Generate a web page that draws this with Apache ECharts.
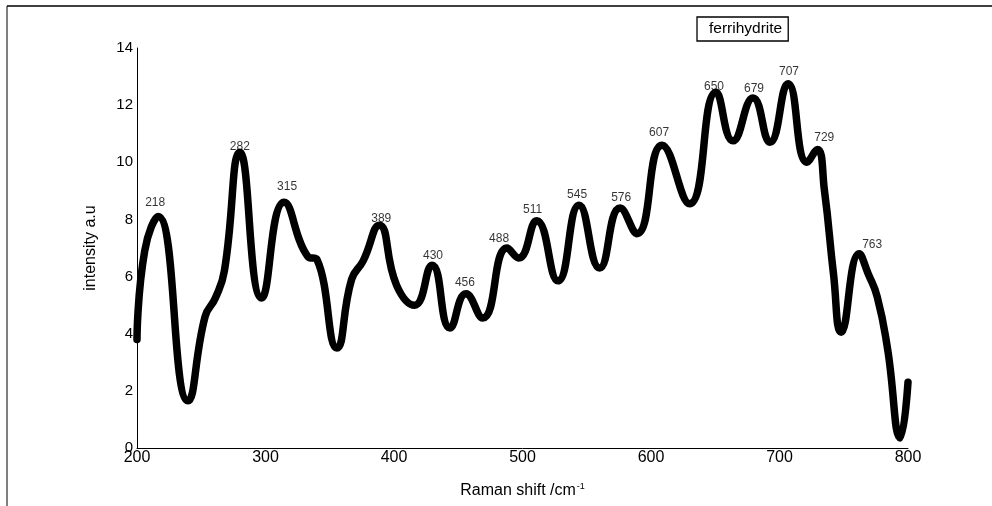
<!DOCTYPE html>
<html>
<head>
<meta charset="utf-8">
<script src="https://cdn.jsdelivr.net/npm/echarts@6/dist/echarts.min.js"></script>
<style>
html,body{margin:0;padding:0;background:#fff;}
#chart{width:992px;height:506px;}
</style>
</head>
<body>
<div id="chart"></div>
<script>
// Raman shift (cm^-1) and intensity (a.u.)
var ramanShift = [200, 206, 216.5, 239.7, 253, 261, 268, 280, 297, 314.5, 333, 340, 355.6, 367, 376, 388.5, 402, 416, 429.6, 443.6, 456, 469, 488, 497, 511, 527.6, 544, 560, 576, 589, 608.6, 630, 650.6, 663.8, 679.4, 692.6, 706.6, 721.4, 729.4, 735, 742, 748, 762, 769, 776, 784, 794, 800];
var intensity = [3.8, 6.9, 8.1, 1.65, 4.6, 5.25, 6.2, 10.35, 5.25, 8.6, 6.7, 6.6, 3.5, 5.9, 6.55, 7.8, 5.7, 5.0, 6.4, 4.2, 5.4, 4.55, 7.0, 6.65, 7.95, 5.85, 8.5, 6.3, 8.4, 7.5, 10.6, 8.55, 12.45, 10.75, 12.25, 10.7, 12.75, 10.0, 10.45, 9.0, 6.1, 4.05, 6.8, 6.1, 5.3, 3.5, 0.35, 2.3];

// Peak annotations
var peakLabels = ['218', '282', '315', '389', '430', '456', '488', '511', '545', '576', '607', '650', '679', '707', '729', '763'];
var peakShift = [216.5, 280, 314.5, 388.5, 429.6, 456, 488, 511, 544, 576, 608.6, 650.6, 679.4, 706.6, 729.4, 762];
var peakIntensity = [8.1, 10.35, 8.6, 7.8, 6.4, 5.4, 7.0, 7.95, 8.5, 8.4, 10.6, 12.45, 12.25, 12.75, 10.45, 6.8];
// label offsets in pixels (styling only)
var peakLabelOffset = [[-3, -14], [0, -6], [3, -16], [2, -6], [1, -9], [-1, -11], [-8, -9], [-4, -11], [-2, -10], [1, -10], [-3, -12], [-2, -6], [1, -9], [1, -12], [7, -12], [13, -9]];

var xTicks = [200, 300, 400, 500, 600, 700, 800];
var yTicks = [0, 2, 4, 6, 8, 10, 12, 14];

var seriesName = 'ferrihydrite';
var xTitle = 'Raman shift /cm';
var xTitleSup = '-1';
var yTitle = 'intensity a.u';

var FONT = '"Liberation Sans", Arial, sans-serif';

var chart = echarts.init(document.getElementById('chart'), null, {renderer: 'canvas'});

var lineData = ramanShift.map(function (x, i) { return [x, intensity[i]]; });
var peakData = peakShift.map(function (x, i) {
  return {
    value: [x, peakIntensity[i]],
    label: {formatter: peakLabels[i], offset: peakLabelOffset[i]}
  };
});

chart.setOption({
  animation: false,
  backgroundColor: '#fff',
  grid: {left: 137, right: 84, top: 48, bottom: 58},
  legend: {
    data: [{name: seriesName, icon: 'none'}],
    left: 697, top: 17,
    itemWidth: 0, itemHeight: 12, itemGap: 0,
    padding: [4, 6, 4, 7],
    borderColor: '#000', borderWidth: 1.3,
    selectedMode: false,
    textStyle: {fontFamily: FONT, fontSize: 15.5, color: '#000'}
  },
  xAxis: {
    type: 'value', min: 200, max: 800, interval: 100,
    name: xTitle + '{sup|' + xTitleSup + '}',
    nameLocation: 'middle', nameGap: 34,
    nameTextStyle: {
      fontFamily: FONT, fontSize: 16, color: '#000',
      rich: {sup: {fontFamily: FONT, fontSize: 9, color: '#000', verticalAlign: 'top', padding: [0, 0, 8, 1]}}
    },
    axisLine: {show: true, lineStyle: {color: '#000', width: 1}},
    axisTick: {show: false},
    splitLine: {show: false},
    axisLabel: {
      margin: 2, fontFamily: FONT, fontSize: 16, color: '#000',
      formatter: function (v) { return xTicks.indexOf(v) >= 0 ? String(v) : ''; }
    }
  },
  yAxis: {
    type: 'value', min: 0, max: 14, interval: 2,
    name: yTitle,
    nameLocation: 'middle', nameGap: 38,
    nameTextStyle: {fontFamily: FONT, fontSize: 16, color: '#000'},
    axisLine: {show: true, lineStyle: {color: '#000', width: 1}},
    axisTick: {show: false},
    splitLine: {show: false},
    axisLabel: {
      margin: 4, fontFamily: FONT, fontSize: 15, color: '#000',
      formatter: function (v) { return yTicks.indexOf(v) >= 0 ? String(v) : ''; }
    }
  },
  series: [
    {
      name: seriesName,
      type: 'line',
      data: lineData,
      smooth: 0.5,
      showSymbol: false,
      symbol: 'none',
      lineStyle: {color: '#000', width: 7.5, cap: 'round', join: 'round'},
      itemStyle: {color: '#000'},
      z: 2
    },
    {
      name: 'peaks',
      type: 'scatter',
      data: peakData,
      symbolSize: 0,
      silent: true,
      label: {
        show: true, position: 'inside',
        fontFamily: FONT, fontSize: 12, color: '#000'
      },
      z: 3
    }
  ],
  graphic: [
    {type: 'line', shape: {x1: 7, y1: 6, x2: 992, y2: 6}, style: {stroke: '#000', lineWidth: 1.5}, silent: true},
    {type: 'line', shape: {x1: 7, y1: 6, x2: 7, y2: 506}, style: {stroke: '#000', lineWidth: 1}, silent: true}
  ]
});
</script>
</body>
</html>
